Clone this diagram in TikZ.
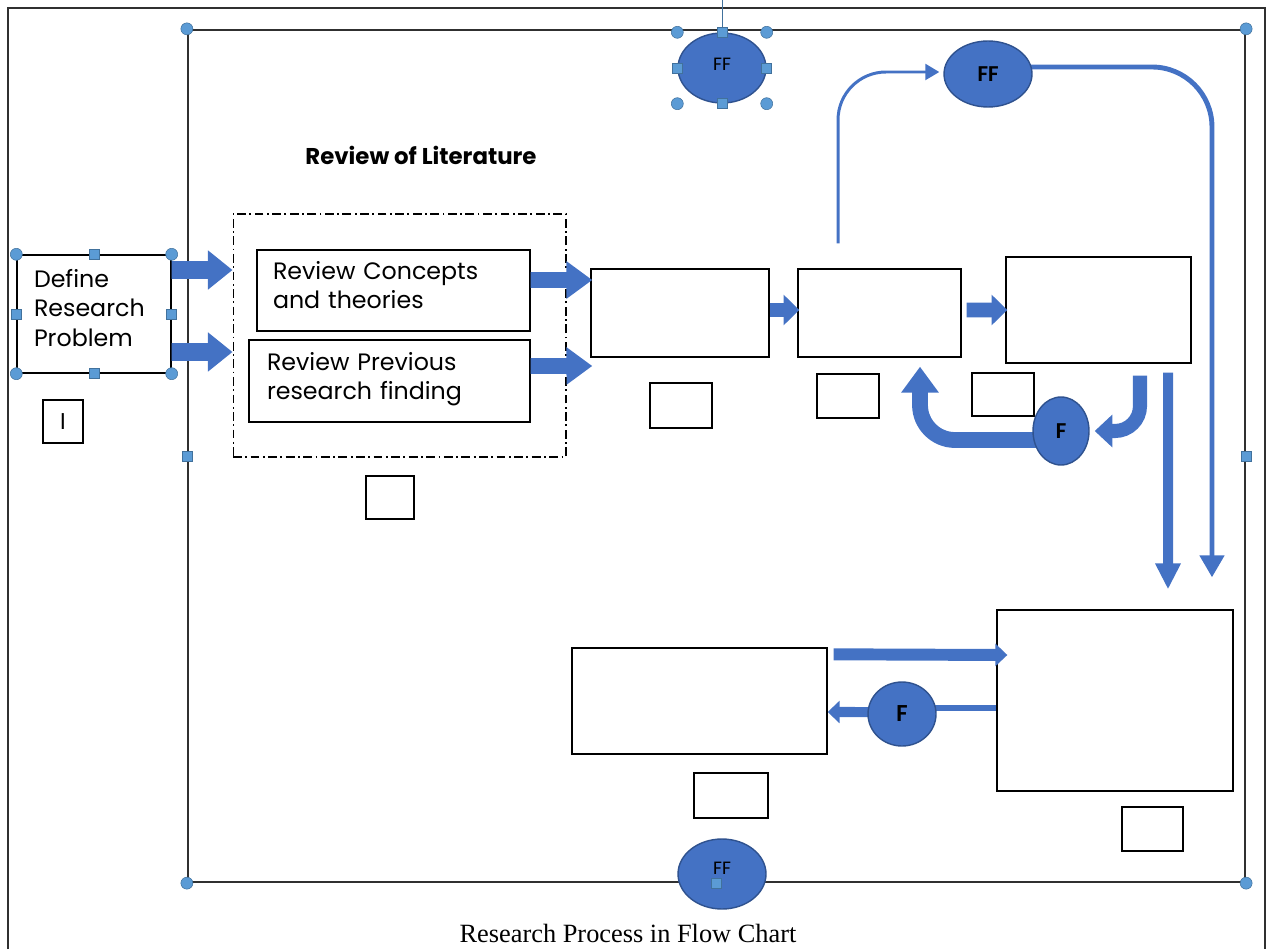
\documentclass[tikz,border=0pt]{standalone}
\usepackage{fontspec}
\setmainfont{Liberation Serif}
\newfontfamily\boxfont{Poppins}
\newfontfamily\ovalfont{Carlito}
\usetikzlibrary{positioning, arrows.meta, shapes.geometric, calc}
\pgfdeclarelayer{background}
\pgfdeclarelayer{foreground}
\pgfsetlayers{background,main,foreground}
\definecolor{ovalblue}{HTML}{4472C4}
\definecolor{ovaledge}{HTML}{2F528F}
\definecolor{handle}{HTML}{5B9BD5}
\definecolor{handleedge}{HTML}{41719C}
\definecolor{framegray}{HTML}{303030}
\tikzset{
    procbox/.style 2 args={draw=black, line width=0.8pt, fill=white, minimum width=#1, minimum height=#2, inner sep=0pt},
    tagbox/.style 2 args={draw=black, line width=1.4pt, fill=white, minimum width=#1, minimum height=#2, inner sep=0pt},
    oval/.style 2 args={ellipse, draw=ovaledge, line width=0.8pt, fill=ovalblue, minimum width=#1, minimum height=#2, inner sep=0pt, font=\ovalfont},
    fat/.style n args={3}{draw=ovalblue, line width=#1, -{Triangle[length=#2, width=#3]}},
    hdot/.style={fill=handle, draw=handleedge, line width=0.3pt},
}

\begin{document}
\begin{tikzpicture}[x=0.02cm, y=-0.02cm]
    \tikzset{
      boxtext/.style={font=\boxfont\fontsize{13.5}{17}\selectfont, align=left, inner ysep=0pt}
    }
    \useasboundingbox (0,0) rectangle (1273,949);

    % page frame and drawing canvas
    \draw[framegray, line width=1.1pt] (8,949) -- (8,8) -- (1265,8) -- (1265,949);
    \node[draw=framegray, line width=1.4pt, minimum width=21.14cm, minimum height=17.04cm, inner sep=0pt] (frame) at (716.5,456) {};
    \coordinate (rot) at (722,0);

    \node[boxtext, font=\boxfont\bfseries\fontsize{13}{15}\selectfont] (littitle) at (421,155) {Review of Literature};

    \node[procbox={3.08cm}{2.36cm}, boxtext, text width=2.4cm, inner xsep=0.34cm, text height=0.64cm, text depth=1.72cm] (dfn) at (94,314) {Define\\Research\\Problem};
    \node[draw, line width=0.6pt, dash pattern=on 5pt off 2pt on 1pt off 2pt, minimum width=6.66cm, minimum height=4.86cm] (lit) at (399.5,335.5) {};
    \node[procbox={5.46cm}{1.62cm}, boxtext, text width=4.82cm, inner xsep=0.32cm, text height=0.58cm, text depth=1.04cm] (con) at (393.5,290.5) {Review Concepts\\and theories};
    \node[procbox={5.62cm}{1.64cm}, boxtext, text width=4.9cm, inner xsep=0.36cm, text height=0.6cm, text depth=1.04cm] (prev) at (389.5,381) {Review Previous\\research finding};

    \node[procbox={3.56cm}{1.76cm}] (bA) at (680,313) {};
    \node[procbox={3.26cm}{1.76cm}] (bB) at (879.5,313) {};
    \node[procbox={3.70cm}{2.12cm}] (bC) at (1098.5,310) {};
    \node[procbox={5.10cm}{2.12cm}] (bD) at (699.5,701) {};
    \node[procbox={4.72cm}{3.62cm}] (bE) at (1115,700.5) {};

    \node[tagbox={0.80cm}{0.86cm}, font=\boxfont\fontsize{13}{15}\selectfont] (t0) at (63,421.5) {I};
    \node[tagbox={0.96cm}{0.86cm}] (t1) at (390,497.5) {};
    \node[tagbox={1.24cm}{0.90cm}] (t2) at (681,405.5) {};
    \node[tagbox={1.24cm}{0.88cm}] (t3) at (848,396) {};
    \node[tagbox={1.24cm}{0.86cm}] (t4) at (1003,394.5) {};
    \node[tagbox={1.48cm}{0.90cm}] (t5) at (731,795.5) {};
    \node[tagbox={1.22cm}{0.88cm}] (t6) at (1152.5,829) {};

    % block arrows between boxes
    \draw[fat={10pt}{14pt}{21.5pt}] ([yshift=0.88cm]dfn.east) -- ([yshift=1.31cm]lit.west);
    \draw[fat={10pt}{14pt}{21.5pt}] ([yshift=-0.76cm]dfn.east) -- ([yshift=-0.33cm]lit.west);
    \draw[fat={9pt}{14.7pt}{20.4pt}] ([yshift=0.21cm]con.east) -- ([xshift=0.04cm,yshift=0.66cm]bA.west);
    \draw[fat={9pt}{14.7pt}{20.4pt}] ([yshift=0.3cm]prev.east) -- ([xshift=0.04cm,yshift=-1.06cm]bA.west);
    \draw[fat={8.5pt}{9pt}{17pt}] ([yshift=0.06cm]bA.east) -- ([xshift=0.04cm,yshift=0.06cm]bB.west);
    \draw[fat={8.5pt}{9pt}{17pt}] ([xshift=0.1cm,yshift=0.06cm]bB.east) -- ([xshift=0.04cm]bC.west);
    \draw[fat={5.7pt}{14.7pt}{13.6pt}] ([xshift=1.39cm,yshift=-0.18cm]bC.south) -- ([xshift=1.06cm,yshift=0.4cm]bE.north);
    \draw[fat={6.8pt}{6.8pt}{12.5pt}] ([xshift=0.12cm,yshift=-0.14cm]bD.north east) -- ([xshift=0.22cm,yshift=0.91cm]bE.west);

    % ovals
    \node[oval={1.76cm}{1.40cm}, font=\ovalfont\fontsize{11}{13}\selectfont] (ffTop) at (722,68) {\raisebox{4pt}{FF}};
    \node[oval={1.76cm}{1.32cm}, font=\ovalfont\bfseries\fontsize{13}{15}\selectfont] (ffRight) at (988,74) {FF};
    \node[oval={1.12cm}{1.36cm}, font=\ovalfont\bfseries\fontsize{13}{15}\selectfont] (fRight) at (1061,431) {F};
    \node[oval={1.36cm}{1.28cm}, font=\ovalfont\bfseries\fontsize{14}{16}\selectfont] (fBot) at (902,714) {F};
    \node[oval={1.76cm}{1.40cm}, font=\ovalfont\fontsize{11}{13}\selectfont] (ffBot) at (722,874) {\raisebox{6pt}{FF}};

    % arrows that run under the ovals
    \begin{pgfonlayer}{background}
    \draw[fat={1.7pt}{8pt}{9pt}, rounded corners=0.96cm] ([xshift=-0.83cm,yshift=0.5cm]bB.north) |- ([xshift=-0.08cm,yshift=0.04cm]ffRight.west);
    \draw[fat={2.8pt}{12.5pt}{13.6pt}, rounded corners=1.2cm] ([xshift=-0.04cm,yshift=0.14cm]ffRight.east) -| ([xshift=1.94cm,yshift=0.64cm]bE.north);
    \draw[fat={8pt}{10pt}{18pt}, rounded corners=0.5cm] ([xshift=0.83cm,yshift=-0.24cm]bC.south) |- ([xshift=0.1cm]fRight.east);
    \draw[fat={9pt}{14.7pt}{20.4pt}, rounded corners=0.7cm] ([xshift=0.14cm,yshift=-0.18cm]fRight.west) -| ([xshift=0.81cm,yshift=-0.18cm]bB.south);
    \draw[draw=ovalblue, line width=3.4pt] ([yshift=-0.15cm]bE.west) -- ([xshift=-0.1cm,yshift=0.12cm]fBot.east);
    \draw[fat={5.7pt}{6.8pt}{12.5pt}] ([xshift=0.1cm,yshift=0.04cm]fBot.west) -- ([yshift=-0.22cm]bD.east);
    \end{pgfonlayer}

    % selection handles
    \draw[handleedge, line width=0.5pt] (ffTop.north) -- (rot);
    \foreach \v in {north, south}
      \foreach \h in {west, east} {
        \fill[hdot] (dfn.\v\space\h) circle (0.12cm);
        \fill[hdot] (frame.\v\space\h) circle (0.12cm);
        \fill[hdot] (ffTop.\v -| ffTop.\h) circle (0.12cm);
      }
    \foreach \a in {north, south, east, west} {
      \filldraw[hdot] (dfn.\a) +(-5,-5) rectangle +(5,5);
      \filldraw[hdot] (ffTop.\a) +(-5,-5) rectangle +(5,5);
    }
    \foreach \a in {west, east, south}
      \filldraw[hdot] (frame.\a) +(-5,-5) rectangle +(5,5);

    \node[anchor=base, font=\fontsize{15}{17}\selectfont] (caption) at (628,942) {Research Process in Flow Chart};
\end{tikzpicture}
\end{document}
